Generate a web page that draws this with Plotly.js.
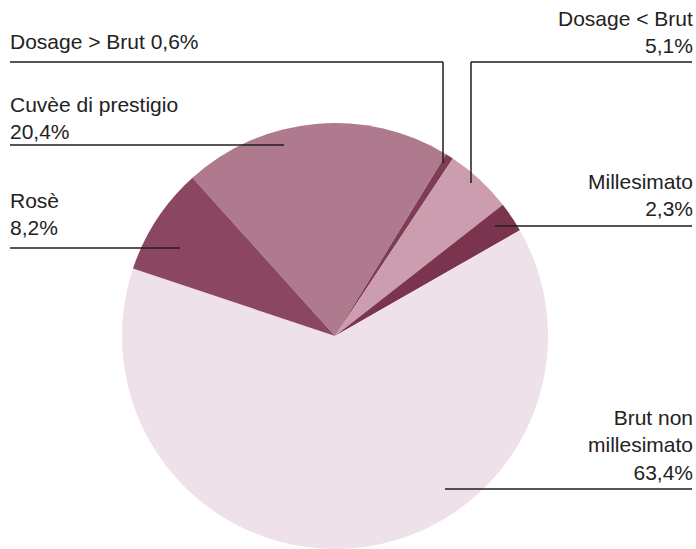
<!DOCTYPE html>
<html>
<head>
<meta charset="utf-8">
<script src="https://cdn.plot.ly/plotly-3.0.1.min.js"></script>
<style>html,body{margin:0;padding:0;background:#fff;}#chart{width:696px;height:549px;}</style>
</head>
<body>
<div id="chart"></div>
<script>
// Data (clockwise order starting at the Cuvée slice)
var labels = ["Cuvèe di prestigio", "Dosage > Brut", "Dosage < Brut", "Millesimato", "Brut non millesimato", "Rosè"];
var values = [20.4, 0.6, 5.1, 2.3, 63.4, 8.2];
var valueText = ["20,4%", "0,6%", "5,1%", "2,3%", "63,4%", "8,2%"];
var sliceColors = ["#b07a8e", "#7e3d55", "#cb9dae", "#7a344d", "#efe1ea", "#8b4762"];

var W = 696, H = 549;
function px(x){ return x / W; }
function py(y){ return 1 - y / H; }

var trace = {
  type: "pie",
  labels: labels,
  values: values,
  sort: false,
  direction: "clockwise",
  rotation: -42,
  marker: { colors: sliceColors, line: { width: 0 } },
  textinfo: "none",
  hoverinfo: "label+percent",
  showlegend: false,
  domain: { x: [122 / W, 548 / W], y: [0, 426 / H] }
};

var font = { family: "Liberation Sans, Arial, sans-serif", size: 21, color: "#222222" };

function ann(x, y, text, anchor) {
  return { xref: "paper", yref: "paper", x: px(x), y: py(y), text: text,
    showarrow: false, xanchor: anchor, yanchor: "top", align: anchor, font: font };
}

var annotations = [
  ann(8, 28, labels[1] + " " + valueText[1], "left"),
  ann(8, 91, "Cuvèe di prestigio<br>" + valueText[0], "left"),
  ann(8, 187, labels[5] + "<br>" + valueText[5], "left"),
  ann(695, 5, labels[2] + "<br>" + valueText[2], "right"),
  ann(695, 168, labels[3] + "<br>" + valueText[3], "right"),
  ann(695, 404, "Brut non<br>millesimato<br>" + valueText[4], "right")
];

var lc = { color: "#1e1e1e", width: 1.5 };
function seg(x0, y0, x1, y1) {
  return { type: "line", xref: "paper", yref: "paper", x0: px(x0), y0: py(y0), x1: px(x1), y1: py(y1), line: lc };
}
var shapes = [
  seg(10, 62, 443, 62), seg(443, 62, 443, 163),
  seg(471, 62, 692, 62), seg(471, 62, 471, 183),
  seg(10, 145, 284, 145),
  seg(10, 248, 180, 248),
  seg(495, 226, 692, 226),
  seg(445, 489, 692, 489)
];

var layout = {
  width: W, height: H,
  margin: { l: 0, r: 0, t: 0, b: 0 },
  paper_bgcolor: "#ffffff",
  annotations: annotations,
  shapes: shapes
};

Plotly.newPlot("chart", [trace], layout, { displayModeBar: false, staticPlot: true });
</script>
</body>
</html>
